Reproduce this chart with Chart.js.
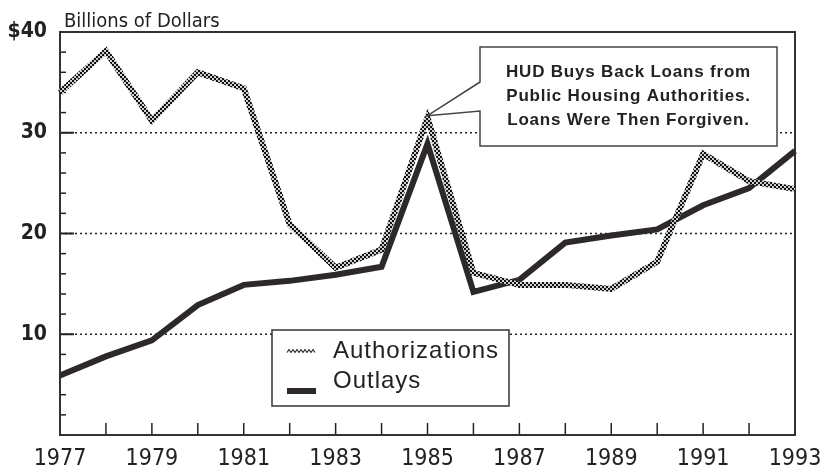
<!doctype html>
<html lang="en">
  <head>
    <meta charset="UTF-8" />
    <title>HUD Authorizations and Outlays</title>
    <script src="https://cdn.jsdelivr.net/npm/chart.js"></script>
    <style>
      body { margin: 0; background: #fff; }
    </style>
  </head>
  <body>
    <canvas id="hudChart" width="825" height="473"></canvas>
    <script>
      // values, billions of dollars
      const years = ["1977", "1978", "1979", "1980", "1981", "1982", "1983", "1984", "1985",
        "1986", "1987", "1988", "1989", "1990", "1991", "1992", "1993"];
      const authorizations = [34.0, 38.1, 31.2, 36.0, 34.4, 20.9, 16.6, 18.4, 31.5,
        16.1, 14.9, 14.9, 14.5, 17.2, 27.9, 25.2, 24.4];
      const outlays = [5.9, 7.8, 9.4, 12.9, 14.9, 15.3, 15.9, 16.7, 28.9,
        14.2, 15.4, 19.1, 19.8, 20.4, 22.8, 24.5, 28.2];
      const yTickLabels = { 10: "10", 20: "20", 30: "30", 40: "$40" };
      const noteLines = ["HUD Buys Back Loans from", "Public Housing Authorities.", "Loans Were Then Forgiven."];
      const noteYear = "1985";

      const condensed = "'DejaVu Sans Condensed', 'Liberation Sans Narrow', sans-serif";
      const ink = "#222";

      // hatched look of the authorizations line
      function hatch() {
        const c = document.createElement("canvas");
        c.width = 4;
        c.height = 4;
        const g = c.getContext("2d");
        g.fillStyle = "#cfcfcf";
        g.fillRect(0, 0, 4, 4);
        g.fillStyle = "#111";
        g.fillRect(0, 0, 2, 2);
        g.fillRect(2, 2, 2, 2);
        return g.createPattern(c, "repeat");
      }
      const hatchPattern = hatch();

      const frame = {
        id: "frame",
        beforeDatasetsDraw(chart) {
          const { ctx, chartArea: a, scales: { x, y } } = chart;
          ctx.save();
          // dotted grid lines
          ctx.strokeStyle = ink;
          ctx.lineWidth = 1.5;
          ctx.setLineDash([2, 3]);
          [10, 20, 30].forEach((v) => {
            const py = y.getPixelForValue(v);
            ctx.beginPath();
            ctx.moveTo(a.left, py);
            ctx.lineTo(a.right, py);
            ctx.stroke();
          });
          ctx.setLineDash([]);
          // inside ticks on y
          for (let v = 2; v < 40; v += 2) {
            const py = y.getPixelForValue(v);
            const major = v % 10 === 0;
            ctx.lineWidth = major ? 2 : 1.5;
            ctx.beginPath();
            ctx.moveTo(a.left, py);
            ctx.lineTo(a.left + (major ? 14 : 6), py);
            ctx.stroke();
          }
          // inside ticks on x, one per year
          ctx.lineWidth = 1.5;
          for (let i = 1; i < years.length - 1; i++) {
            const px = x.getPixelForValue(i);
            ctx.beginPath();
            ctx.moveTo(px, a.bottom);
            ctx.lineTo(px, a.bottom - 12);
            ctx.stroke();
          }
          // box
          ctx.strokeStyle = "#333";
          ctx.lineWidth = 2;
          ctx.strokeRect(a.left, a.top, a.right - a.left, a.bottom - a.top);
          ctx.restore();
        },
        afterDatasetsDraw(chart) {
          const { ctx, chartArea: a, scales: { x, y } } = chart;
          ctx.save();
          // axis caption
          ctx.fillStyle = ink;
          ctx.font = "20px " + condensed;
          ctx.textBaseline = "alphabetic";
          ctx.fillText("Billions of Dollars", a.left + 4, a.top - 5);

          // call-out box
          const i = years.indexOf(noteYear);
          const tipX = x.getPixelForValue(i);
          const tipY = y.getPixelForValue(authorizations[i]) - 2;
          const bx = 480, by = 47, bw = 297, bh = 99;
          ctx.beginPath();
          ctx.moveTo(bx, by + 35);
          ctx.lineTo(tipX, tipY);
          ctx.lineTo(bx, by + 64);
          ctx.lineTo(bx, by + bh);
          ctx.lineTo(bx + bw, by + bh);
          ctx.lineTo(bx + bw, by);
          ctx.lineTo(bx, by);
          ctx.closePath();
          ctx.fillStyle = "#fff";
          ctx.fill();
          ctx.strokeStyle = "#444";
          ctx.lineWidth = 1.5;
          ctx.stroke();
          ctx.fillStyle = ink;
          ctx.font = "bold 17px 'Liberation Sans', Arial, sans-serif";
          ctx.letterSpacing = "0.8px";
          ctx.textAlign = "center";
          noteLines.forEach((t, k) => ctx.fillText(t, bx + bw / 2, by + 30 + k * 24));

          // legend
          const lx = 272, ly = 330, lw = 237, lh = 76;
          ctx.fillStyle = "#fff";
          ctx.fillRect(lx, ly, lw, lh);
          ctx.strokeStyle = "#333";
          ctx.lineWidth = 1.5;
          ctx.strokeRect(lx, ly, lw, lh);
          const sets = chart.data.datasets;
          // wavy sample
          ctx.strokeStyle = "#333";
          ctx.lineWidth = 1.2;
          ctx.beginPath();
          for (let k = 0; k <= 14; k++) {
            const px = lx + 15 + k * 2;
            const py = ly + 21 + (k % 2 ? -1.5 : 1.5);
            k ? ctx.lineTo(px, py) : ctx.moveTo(px, py);
          }
          ctx.stroke();
          ctx.fillStyle = sets[1].borderColor;
          ctx.fillRect(lx + 15, ly + 58, 29, 6);
          ctx.fillStyle = ink;
          ctx.textAlign = "left";
          ctx.letterSpacing = "1px";
          ctx.font = "24px 'Liberation Sans', Arial, sans-serif";
          ctx.fillText(sets[0].label, lx + 61, ly + 28);
          ctx.fillText(sets[1].label, lx + 61, ly + 58);
          ctx.restore();
        },
      };

      new Chart(document.getElementById("hudChart"), {
        type: "line",
        data: {
          labels: years,
          datasets: [
            {
              label: "Authorizations",
              data: authorizations,
              borderColor: hatchPattern,
              borderWidth: 6,
              pointRadius: 0,
              tension: 0,
            },
            {
              label: "Outlays",
              data: outlays,
              borderColor: "#2e2929",
              borderWidth: 6,
              pointRadius: 0,
              tension: 0,
            },
          ],
        },
        options: {
          responsive: false,
          animation: false,
          layout: { padding: { top: 32, right: 30, left: 0, bottom: 0 } },
          plugins: {
            legend: { display: false },
            tooltip: { enabled: false },
          },
          scales: {
            x: {
              grid: { display: false, drawTicks: false },
              border: { display: false },
              ticks: {
                autoSkip: false,
                maxRotation: 0,
                padding: 10,
                color: ink,
                font: { family: condensed, size: 23 },
                callback: (v, i) => (i % 2 === 0 ? years[i] : ""),
              },
              afterFit: (s) => {
                s.height = 38;
                s.paddingLeft = 0;
                s.paddingRight = 0;
              },
            },
            y: {
              min: 0,
              max: 40,
              grid: { display: false, drawTicks: false },
              border: { display: false },
              ticks: {
                stepSize: 10,
                padding: 13,
                color: ink,
                font: { family: condensed, size: 21, weight: "bold" },
                callback: (v) => yTickLabels[v] || "",
              },
              afterFit: (s) => { s.width = 60; },
            },
          },
        },
        plugins: [frame],
      });
    </script>
  </body>
</html>
